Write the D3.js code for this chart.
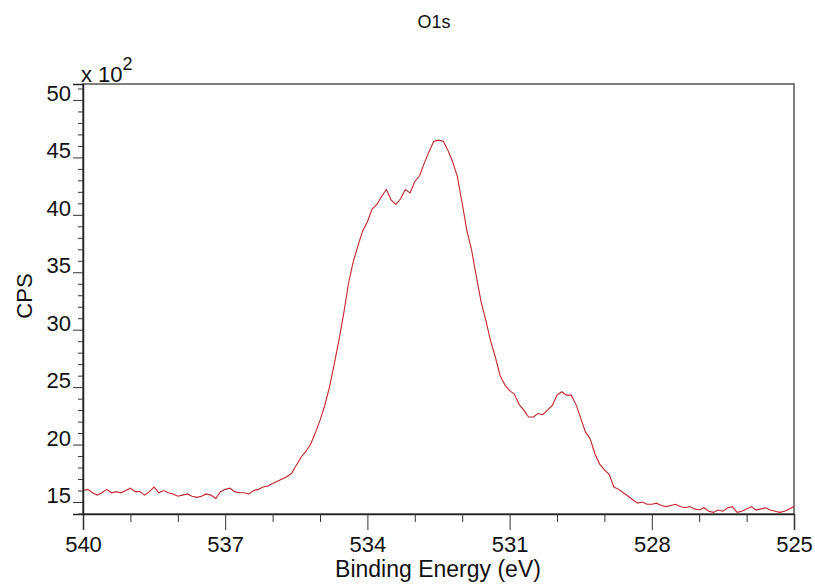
<!DOCTYPE html>
<html>
<head>
<meta charset="utf-8">
<script src="https://cdn.jsdelivr.net/npm/d3@7"></script>
<style>
  body { margin: 0; background: #fff; }
  svg text { font-family: "Liberation Sans", Arial, sans-serif; fill: #111; }
</style>
</head>
<body>
<div id="chart"></div>
<script>
// O1s spectrum, binding energy (eV) and counts (x 10^2 CPS)
var energy = [540.0,539.9,539.8,539.7,539.6,539.5,539.4,539.3,539.2,539.1,
  539.0,538.9,538.8,538.7,538.6,538.5,538.4,538.3,538.2,538.1,
  538.0,537.9,537.8,537.7,537.6,537.5,537.4,537.3,537.2,537.1,
  537.0,536.9,536.8,536.7,536.6,536.5,536.4,536.3,536.2,536.1,
  536.0,535.9,535.8,535.7,535.6,535.5,535.4,535.3,535.2,535.1,
  535.0,534.9,534.8,534.7,534.6,534.5,534.4,534.3,534.2,534.1,
  534.0,533.9,533.8,533.7,533.6,533.5,533.4,533.3,533.2,533.1,
  533.0,532.9,532.8,532.7,532.6,532.5,532.4,532.3,532.2,532.1,
  532.0,531.9,531.8,531.7,531.6,531.5,531.4,531.3,531.2,531.1,
  531.0,530.9,530.8,530.7,530.6,530.5,530.4,530.3,530.2,530.1,
  530.0,529.9,529.8,529.7,529.6,529.5,529.4,529.3,529.2,529.1,
  529.0,528.9,528.8,528.7,528.6,528.5,528.4,528.3,528.2,528.1,
  528.0,527.9,527.8,527.7,527.6,527.5,527.4,527.3,527.2,527.1,
  527.0,526.9,526.8,526.7,526.6,526.5,526.4,526.3,526.2,526.1,
  526.0,525.9,525.8,525.7,525.6,525.5,525.4,525.3,525.2,525.1,
  525.0];
var cps = [16.0,16.1,15.8,15.6,15.8,16.1,15.8,15.9,15.8,16.0,
  16.2,15.9,15.9,15.6,15.9,16.3,15.8,16.0,15.8,15.7,
  15.5,15.6,15.7,15.5,15.4,15.5,15.7,15.6,15.3,15.9,
  16.1,16.2,15.9,15.8,15.8,15.7,16.0,16.1,16.3,16.4,
  16.6,16.8,17.0,17.2,17.5,18.2,18.9,19.4,20.0,21.0,
  22.1,23.4,25.0,27.0,29.1,31.4,34.0,35.9,37.3,38.6,
  39.4,40.5,40.9,41.6,42.2,41.3,40.9,41.4,42.2,41.9,
  42.9,43.4,44.5,45.5,46.4,46.5,46.4,45.6,44.6,43.3,
  41.0,38.6,36.9,34.6,32.4,30.8,29.0,27.6,26.0,25.2,
  24.7,24.4,23.5,23.0,22.4,22.4,22.7,22.6,23.0,23.4,
  24.3,24.6,24.3,24.3,23.5,22.3,21.1,20.5,19.2,18.3,
  17.8,17.4,16.3,16.1,15.8,15.5,15.2,14.9,15.0,14.8,
  14.8,14.9,14.7,14.6,14.7,14.8,14.6,14.5,14.6,14.4,
  14.3,14.5,14.2,14.1,14.3,14.2,14.5,14.6,14.1,14.2,
  14.4,14.6,14.3,14.4,14.5,14.3,14.2,14.1,14.2,14.4,
  14.6];
var xMajor = [540, 537, 534, 531, 528, 525];
var xMinor = [539, 538, 536, 535, 533, 532, 530, 529, 527, 526];
var yMajor = [15, 20, 25, 30, 35, 40, 45, 50];
var yMinor = [14, 16, 17, 18, 19, 21, 22, 23, 24, 26, 27, 28, 29, 31, 32, 33, 34,
  36, 37, 38, 39, 41, 42, 43, 44, 46, 47, 48, 49, 51];

var W = 815, H = 587;
var pLeft = 83, pRight = 794, pTop = 84, pBottom = 514;

var svg = d3.select("#chart").append("svg")
  .attr("width", W).attr("height", H);

var x = d3.scaleLinear().domain([540, 525]).range([pLeft, pRight]);
var y = d3.scaleLinear().domain([13.955, 51.39]).range([pBottom, pTop]);

// frame
svg.append("rect")
  .attr("x", pLeft).attr("y", pTop)
  .attr("width", pRight - pLeft).attr("height", pBottom - pTop)
  .attr("fill", "none").attr("stroke", "#555").attr("stroke-width", 1.5);

svg.append("clipPath").attr("id", "plot")
  .append("rect").attr("x", pLeft).attr("y", pTop)
  .attr("width", pRight - pLeft).attr("height", pBottom - pTop);

var data = energy.map(function(e, i) { return {e: e, v: cps[i]}; });
var line = d3.line()
  .x(function(d) { return x(d.e); })
  .y(function(d) { return y(d.v); });

svg.append("path")
  .datum(data)
  .attr("clip-path", "url(#plot)")
  .attr("fill", "none")
  .attr("stroke", "#c4262e")
  .attr("stroke-width", 1.1)
  .attr("d", line);

// x axis
var gx = svg.append("g")
  .attr("transform", "translate(0," + pBottom + ")")
  .call(d3.axisBottom(x).tickValues(xMajor).tickSize(16).tickPadding(6)
    .tickFormat(d3.format("d")));
svg.append("g")
  .attr("transform", "translate(0," + pBottom + ")")
  .call(d3.axisBottom(x).tickValues(xMinor).tickSize(8).tickFormat(""))
  .select(".domain").remove();

// y axis
var gy = svg.append("g")
  .attr("transform", "translate(" + pLeft + ",0)")
  .call(d3.axisLeft(y).tickValues(yMajor).tickSize(10).tickPadding(2));
svg.append("g")
  .attr("transform", "translate(" + pLeft + ",0)")
  .call(d3.axisLeft(y).tickValues(yMinor).tickSize(5).tickFormat(""))
  .select(".domain").remove();

svg.selectAll(".tick line").attr("stroke", "#333");
svg.selectAll(".domain").attr("stroke", "#222").attr("stroke-width", 1.5);
gx.selectAll("text").attr("font-size", 22).attr("fill", "#111")
  .attr("font-family", "Liberation Sans, Arial, sans-serif");
gy.selectAll("text").attr("font-size", 22).attr("fill", "#111")
  .attr("dy", "0.02em")
  .attr("font-family", "Liberation Sans, Arial, sans-serif");

// labels
svg.append("text")
  .attr("x", 434).attr("y", 28)
  .attr("text-anchor", "middle").attr("font-size", 18)
  .text("O1s");

var mult = svg.append("text")
  .attr("x", 81).attr("y", 82).attr("font-size", 22);
mult.append("tspan").text("x 10");
mult.append("tspan").attr("dy", -12).attr("font-size", 18).text("2");

svg.append("text")
  .attr("transform", "translate(32,296) rotate(-90)")
  .attr("text-anchor", "middle").attr("font-size", 22)
  .text("CPS");

svg.append("text")
  .attr("x", 438).attr("y", 577)
  .attr("text-anchor", "middle").attr("font-size", 23)
  .text("Binding Energy (eV)");
</script>
</body>
</html>
